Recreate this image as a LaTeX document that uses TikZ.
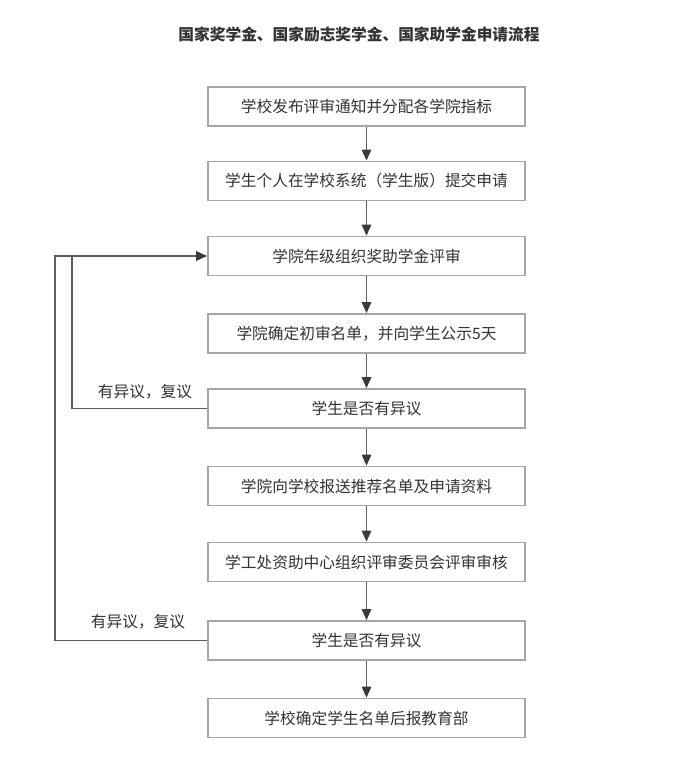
\documentclass[tikz,border=0pt]{standalone}
\usepackage{fontspec}
\setmainfont{Noto Sans CJK SC}
\usetikzlibrary{arrows.meta}
\definecolor{boxline}{HTML}{A6A6A6}
\definecolor{conn}{HTML}{5F5F5F}
\definecolor{tip}{HTML}{3A3A3A}
\definecolor{txt}{HTML}{333333}
\begin{document}
\begin{tikzpicture}[x=1pt,y=-1pt,
  stepbox/.style={draw=boxline,line width=1.8pt,fill=white,minimum width=317pt,minimum height=39pt,inner sep=0pt,
    font=\fontsize{15.7pt}{18pt}\selectfont,text=txt},
  link/.style={draw=conn,line width=1.6pt,-{Triangle[length=11pt,width=9.5pt,color=tip]}},
  plain/.style={draw=conn,line width=1.6pt},
  lbl/.style={font=\fontsize{15.7pt}{18pt}\selectfont,text=txt,inner sep=0pt}]
\useasboundingbox[fill=white] (0,0) rectangle (679,770);
\node[font=\bfseries\fontsize{15.7pt}{18pt}\selectfont,text=txt,inner sep=0pt] (title) at (359,35) {国家奖学金、国家励志奖学金、国家助学金申请流程};
\node[stepbox] (b1) at (366.5,106.5) {学校发布评审通知并分配各学院指标};
\node[stepbox] (b2) at (366.5,181) {学生个人在学校系统（学生版）提交申请};
\node[stepbox] (b3) at (366.5,256) {学院年级组织奖助学金评审};
\node[stepbox] (b4) at (366.5,333.5) {学院确定初审名单，并向学生公示5天};
\node[stepbox] (b5) at (366.5,408.5) {学生是否有异议};
\node[stepbox] (b6) at (366.5,486) {学院向学校报送推荐名单及申请资料};
\node[stepbox] (b7) at (366.5,562) {学工处资助中心组织评审委员会评审审核};
\node[stepbox] (b8) at (366.5,640.5) {学生是否有异议};
\node[stepbox] (b9) at (366.5,718) {学校确定学生名单后报教育部};
\foreach \a/\b in {b1/b2,b2/b3,b3/b4,b4/b5,b5/b6,b6/b7,b7/b8,b8/b9}
  \draw[link] (\a) -- (\b);
\coordinate (c1) at (72,408.5);
\coordinate (c2) at (72,256);
\coordinate (d1) at (55,640.5);
\coordinate (d2) at (55,256);
\draw[plain] (b8.west) -- (d1) -- (d2) -- (c2);
\draw[link] (b5.west) -- (c1) -- (c2) -- (b3.west);
\node[lbl] (l1) at (145,392) {有异议，复议};
\node[lbl] (l2) at (138,622) {有异议，复议};
\end{tikzpicture}
\end{document}
